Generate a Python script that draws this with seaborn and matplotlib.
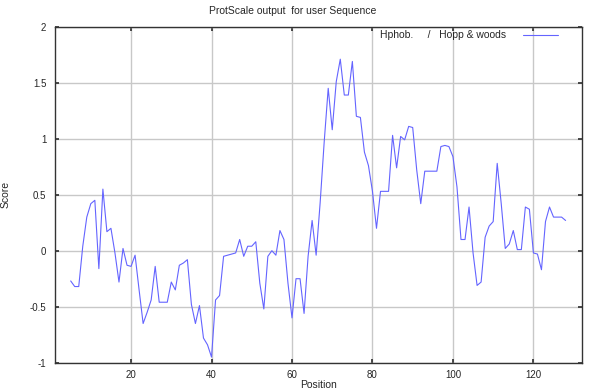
import pandas as pd
import matplotlib
matplotlib.use("Agg")
import matplotlib.pyplot as plt
import seaborn as sns

# Hopp & Woods hydrophobicity
positions = list(range(5, 129))
scores = [
    -0.27, -0.32, -0.32, 0.04, 0.30, 0.42, 0.45, -0.16, 0.55, 0.17,
    0.20, -0.02, -0.28, 0.02, -0.13, -0.14, -0.04, -0.35, -0.65, -0.55,
    -0.44, -0.14, -0.46, -0.46, -0.46, -0.28, -0.35, -0.13, -0.11, -0.08,
    -0.48, -0.65, -0.49, -0.78, -0.84, -0.95, -0.44, -0.40, -0.05, -0.04,
    -0.03, -0.02, 0.10, -0.05, 0.04, 0.04, 0.08, -0.29, -0.52, -0.05,
    0.00, -0.04, 0.18, 0.10, -0.29, -0.60, -0.25, -0.25, -0.56, -0.05,
    0.27, -0.04, 0.43, 0.97, 1.45, 1.08, 1.51, 1.71, 1.39, 1.39,
    1.69, 1.20, 1.19, 0.88, 0.76, 0.53, 0.20, 0.53, 0.53, 0.53,
    1.03, 0.74, 1.02, 0.99, 1.11, 1.10, 0.72, 0.42, 0.71, 0.71,
    0.71, 0.71, 0.93, 0.94, 0.93, 0.84, 0.57, 0.10, 0.10, 0.39,
    -0.02, -0.31, -0.28, 0.12, 0.22, 0.26, 0.78, 0.42, 0.02, 0.06,
    0.18, 0.01, 0.01, 0.39, 0.37, -0.02, -0.03, -0.17, 0.26, 0.39,
    0.30, 0.30, 0.30, 0.27,
]
x_ticks = [20, 40, 60, 80, 100, 120]
y_ticks = [-1, -0.5, 0, 0.5, 1, 1.5, 2]
y_labels = ["-1", "-0.5", "0", "0.5", "1", "1.5", "2"]

df = pd.DataFrame({"Position": positions, "Score": scores})

sns.set_theme(style="ticks")
plt.rcParams["font.family"] = ["Liberation Sans", "DejaVu Sans"]

fig = plt.figure(figsize=(6, 3.9), dpi=100)
ax = fig.add_axes([0.091, 0.07, 0.8785, 0.8615])

sns.lineplot(
    x="Position",
    y="Score",
    data=df,
    color="#6464ff",
    lw=0.8,
    label="Hphob.     /   Hopp & woods",
    ax=ax,
)

ax.set_xlim(1, 132)
ax.set_ylim(-1, 2)
ax.set_xticks(x_ticks)
ax.set_yticks(y_ticks)
ax.set_yticklabels(y_labels)
ax.grid(True, color="#c8c8c8", lw=1)
ax.tick_params(direction="in", top=True, right=True, labelsize=7,
               length=3, color="#333333")
ax.tick_params(axis="y", pad=6)
ax.tick_params(axis="x", pad=5)
for s in ax.spines.values():
    s.set_color("#333333")
    s.set_linewidth(1)

ax.set_xlabel("Position", fontsize=7.5, labelpad=0)
ax.set_ylabel("Score", fontsize=7.5, labelpad=14)
fig.text(0.487, 0.972, "ProtScale output  for user Sequence",
         ha="center", va="center", fontsize=7.5)

ax.legend(loc="upper right", frameon=False, fontsize=7.5, markerfirst=False,
          handlelength=3.3, handletextpad=1.6, borderaxespad=0.2,
          bbox_to_anchor=(0.966, 1.008))

plt.savefig("out.png", dpi=100)
